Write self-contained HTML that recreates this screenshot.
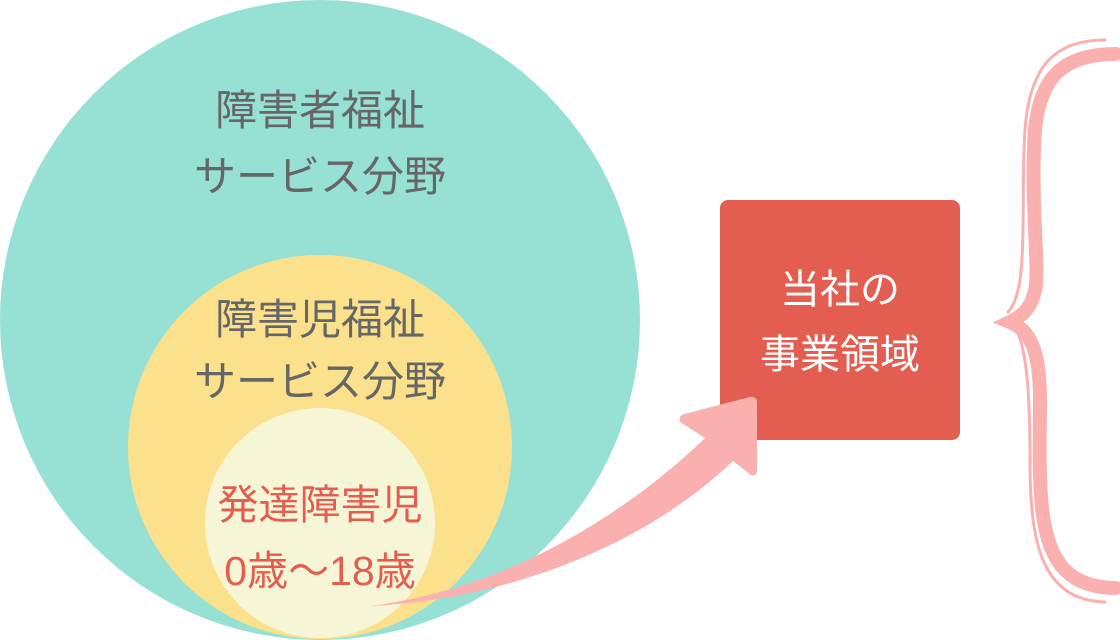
<!DOCTYPE html>
<html><head><meta charset="utf-8"><style>
html,body{margin:0;padding:0;background:#fff;}
body{width:1120px;height:640px;position:relative;overflow:hidden;font-family:"Liberation Sans","Noto Sans CJK JP",sans-serif;}
.t{position:absolute;text-align:center;white-space:nowrap;line-height:1;}
</style></head><body>
<svg width="1120" height="640" style="position:absolute;left:0;top:0">
<circle cx="320" cy="320" r="320" fill="#97e1d4"/>
<circle cx="320" cy="447" r="192" fill="#fbe18c"/>
<circle cx="320" cy="523" r="115" fill="#f6f6d6"/>
<rect x="720" y="200" width="240" height="240" rx="8" fill="#e35d51"/>
<path d="M370,606 C500,590 620,520 705,438 L680,422 Q678,416 684,414 L750,397 Q757,396 757,403 L757,470 Q757,477 751,475 L733,461 C640,550 500,600 370,606 Z" fill="#fbb0b0"/>
<g fill="none" stroke="#fbb0b0" stroke-linecap="round">
<path d="M1116,54 C1060,54 1040,80 1035,130 C1030,200 1040,270 1035,290 C1032,305 1025,315 1010,322 C1030,330 1040,350 1040,400 C1040,470 1035,540 1065,570 C1080,585 1100,588 1116,588" stroke-width="14"/>
<path d="M1105,40 C1060,40 1030,60 1025,130 C1020,200 1030,290 1008,312" stroke-width="3"/>
<path d="M1008,320 C1025,330 1030,380 1030,460 C1030,540 1040,600 1105,602" stroke-width="3"/>
</g>
</svg>
<div class="t" style="left:120px;width:400px;top:90px;font-size:42px;color:#666">障害者福祉</div>
<div class="t" style="left:120px;width:400px;top:156px;font-size:42px;color:#666">サービス分野</div>
<div class="t" style="left:120px;width:400px;top:299px;font-size:42px;color:#666">障害児福祉</div>
<div class="t" style="left:120px;width:400px;top:361px;font-size:42px;color:#666">サービス分野</div>
<div class="t" style="left:120px;width:400px;top:485px;font-size:41px;color:#e35d51">発達障害児</div>
<div class="t" style="left:120px;width:400px;top:551px;font-size:41px;color:#e35d51">0歳〜18歳</div>
<div class="t" style="left:720px;width:240px;top:270px;font-size:40px;color:#fff">当社の</div>
<div class="t" style="left:720px;width:240px;top:335px;font-size:40px;color:#fff">事業領域</div>
</body></html>
